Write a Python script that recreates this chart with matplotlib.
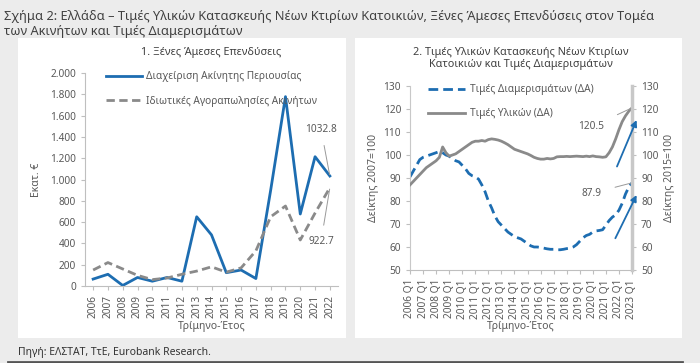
import numpy as np
import matplotlib
matplotlib.use("Agg")
import matplotlib.pyplot as plt
from matplotlib.patches import Rectangle
from matplotlib.ticker import FuncFormatter
from matplotlib.lines import Line2D

plt.rcParams["font.family"] = ["Noto Sans", "DejaVu Sans"]

# --- data -------------------------------------------------------------
years = [str(y) for y in range(2006, 2023)]
property_mgmt = [65, 110, 5, 80, 45, 80, 45, 650, 480, 125, 150, 70,
                 900, 1778, 676, 1214, 1032.8]
private_sales = [150, 220, 160, 100, 60, 75, 110, 140, 180, 130, 170, 330,
                 650, 751, 432, 685, 922.7]

quarter_ticks = [f"{y} Q1" for y in range(2006, 2024)]
apartment_prices = [90.5, 93, 95.5, 98, 99, 99.5, 100, 100.5, 101, 101.5,
                    101, 100, 99.5, 98.5, 97.5, 97, 95.5, 94, 92, 91,
                    90.5, 89.5, 87, 84, 80, 77, 73.5, 71, 69.5, 68,
                    66.5, 65.5, 64.5, 64, 63.5, 62.5, 61.5, 60.5, 60, 60,
                    59.8, 59.5, 59.2, 59, 59, 58.8, 58.8, 59, 59.3, 59.5,
                    60, 61, 62.5, 64, 65, 65.5, 66.5, 67, 67.2, 67.5,
                    69.5, 71.5, 73, 74, 76, 79, 83, 86, 87.9]
material_prices = [87, 88.5, 90, 91.5, 93, 94.5, 95.5, 96.5, 97.5, 99,
                   103.5, 101, 99.5, 100, 100.5, 101.5, 102.5, 103.5, 104.5, 105.5,
                   106, 106, 106.3, 106, 106.7, 107, 106.8, 106.5, 106, 105.3,
                   104.5, 103.5, 102.5, 102, 101.5, 101, 100.5, 99.8, 99, 98.5,
                   98.2, 98.2, 98.5, 98.3, 98.5, 99.2, 99.3, 99.3, 99.4, 99.3,
                   99.4, 99.5, 99.4, 99.3, 99.5, 99.3, 99.6, 99.3, 99.2, 99,
                   99.2, 101, 103.5, 107, 111, 114.5, 117, 119, 120.5]

BLUE = "#1d6db1"
GRAY = "#8a8a8a"
TXT = "#595959"

fig = plt.figure(figsize=(7, 3.63), dpi=100)
fig.patch.set_facecolor("#ececec")

W, H = 700, 363


def fx(px):
    return px / W


def fy(py):
    return 1 - py / H


# white panels behind the charts
for x0, x1 in [(18, 346), (355, 682)]:
    fig.patches.append(Rectangle((fx(x0), fy(338)), fx(x1 - x0), (338 - 38) / H,
                                 transform=fig.transFigure, facecolor="white",
                                 edgecolor="none", zorder=-10))
fig.add_artist(Line2D([fx(8), fx(682)], [fy(361.5), fy(361.5)],
                      color="#555555", lw=2))

fig.text(fx(4), fy(10),
         "Σχήμα 2: Ελλάδα – Τιμές Υλικών Κατασκευής Νέων Κτιρίων Κατοικιών, "
         "Ξένες Άμεσες Επενδύσεις στον Τομέα\nτων Ακινήτων και Τιμές Διαμερισμάτων",
         fontsize=9.2, color="#404040", va="top", ha="left", linespacing=1.2)
fig.text(fx(18), fy(353), "Πηγή: ΕΛΣΤΑΤ, ΤτΕ, Eurobank Research.",
         fontsize=7.5, color="#333333", va="center", ha="left")

# --- left chart ---------------------------------------------------------
ax1 = fig.add_axes([fx(85), fy(286), fx(338 - 85), (286 - 73) / H])
ax1.set_facecolor("none")
x = np.arange(len(years))
ax1.plot(x, property_mgmt, color=BLUE, lw=2.0,
         label="Διαχείριση Ακίνητης Περιουσίας")
ax1.plot(x, private_sales, color=GRAY, lw=2.0, ls=(0, (3, 1.6)),
         label="Ιδιωτικές Αγοραπωλησίες Ακινήτων")
ax1.set_xlim(-0.55, len(years) - 0.45)
ax1.set_ylim(0, 2000)
ax1.set_yticks(range(0, 2001, 200))
ax1.yaxis.set_major_formatter(FuncFormatter(lambda v, p: f"{int(v):,}".replace(",", ".")))
ax1.set_xticks(x)
ax1.set_xticklabels(years, rotation=90)
for s in ["top", "right"]:
    ax1.spines[s].set_visible(False)
ax1.spines["left"].set_color("#bfbfbf")
ax1.spines["bottom"].set_color("#bfbfbf")
ax1.tick_params(colors="#bfbfbf", labelcolor=TXT, labelsize=7.3, length=3)
ax1.set_ylabel("Εκατ. €", fontsize=7.5, color=TXT, labelpad=6)
ax1.set_xlabel("Τρίμηνο-Έτος", fontsize=7.5, color=TXT, labelpad=2)
ax1.set_title("1. Ξένες Άμεσες Επενδύσεις", fontsize=7.8, color="#404040", pad=13)
ax1.legend(loc="upper left", bbox_to_anchor=(0.045, 1.05), frameon=False,
           fontsize=7.3, labelcolor=TXT, handlelength=3.6, labelspacing=1.3,
           handletextpad=0.4)
ax1.annotate(f"{property_mgmt[-1]:.1f}", xy=(x[-1], property_mgmt[-1]),
             xytext=(15.4, 1474), fontsize=7.3, color=TXT, ha="center", va="center",
             arrowprops=dict(arrowstyle="-", color="#999999", lw=0.7,
                             shrinkA=6, shrinkB=1))
ax1.annotate(f"{private_sales[-1]:.1f}", xy=(x[-1], private_sales[-1]),
             xytext=(15.4, 416), fontsize=7.3, color=TXT, ha="center", va="center",
             arrowprops=dict(arrowstyle="-", color="#999999", lw=0.7,
                             shrinkA=6, shrinkB=1))

# --- right chart --------------------------------------------------------
ax2 = fig.add_axes([fx(410), fy(270), fx(632 - 410), (270 - 86) / H])
ax2.set_facecolor("none")
q = np.arange(len(apartment_prices))
ax3 = ax2.twinx()
l1, = ax2.plot(q, apartment_prices, color=BLUE, lw=2.0, ls=(0, (3.5, 1.8)),
               label="Τιμές Διαμερισμάτων (ΔΑ)")
l2, = ax3.plot(q, material_prices, color=GRAY, lw=2.0,
               label="Τιμές Υλικών (ΔΑ)")
for a in (ax2, ax3):
    a.set_ylim(50, 130)
    a.set_yticks(range(50, 131, 10))
    a.set_xlim(0, len(q) - 1)
    a.spines["top"].set_visible(False)
    a.tick_params(colors="#bfbfbf", labelcolor=TXT, labelsize=7.3, length=3)
ax2.spines["right"].set_visible(False)
ax3.spines["left"].set_visible(False)
ax3.spines["bottom"].set_visible(False)
ax2.spines["left"].set_color("#c8c8c8")
ax2.spines["bottom"].set_color("#bfbfbf")
ax3.spines["right"].set_color("#c8c8c8")
ax3.spines["right"].set_linewidth(2.5)
ax2.set_xticks(np.arange(0, len(q), 4))
ax2.set_xticklabels(quarter_ticks, rotation=90)
ax2.set_ylabel("Δείκτης 2007=100", fontsize=7.5, color=TXT, labelpad=3)
ax3.set_ylabel("Δείκτης 2015=100", fontsize=7.5, color=TXT, rotation=90, labelpad=4)
ax2.set_xlabel("Τρίμηνο-Έτος", fontsize=7.5, color=TXT, labelpad=2)
ax2.set_title("2. Τιμές Υλικών Κατασκευής Νέων Κτιρίων\nΚατοικιών και Τιμές Διαμερισμάτων",
              fontsize=7.8, color="#404040", pad=14, linespacing=1.1)
ax3.legend([l1, l2], [l1.get_label(), l2.get_label()], loc="upper left",
           bbox_to_anchor=(0.04, 1.06), frameon=False, fontsize=7.3, labelcolor=TXT,
           handlelength=3.6, labelspacing=1.3, handletextpad=0.5)
ax3.annotate(f"{material_prices[-1]:.1f}", xy=(q[-1], material_prices[-1]),
             xytext=(55.6, 112.3), fontsize=7.3, color=TXT, ha="center", va="center",
             arrowprops=dict(arrowstyle="-", color="#999999", lw=0.7,
                             shrinkA=8, shrinkB=1))
ax3.annotate(f"{apartment_prices[-1]:.1f}", xy=(q[-1], apartment_prices[-1]),
             xytext=(55.6, 83.3), fontsize=7.3, color=TXT, ha="center", va="center",
             arrowprops=dict(arrowstyle="-", color="#999999", lw=0.7,
                             shrinkA=8, shrinkB=1))
for start, end in [((63.4, 95), (69.4, 115.2)), ((62.9, 63.8), (69.4, 82.6))]:
    ax3.annotate("", xy=end, xytext=start, annotation_clip=False,
                 arrowprops=dict(arrowstyle="-|>", color=BLUE, lw=1.3,
                                 mutation_scale=9, shrinkA=0, shrinkB=0))

fig.savefig("out.png", dpi=100, facecolor=fig.get_facecolor())
